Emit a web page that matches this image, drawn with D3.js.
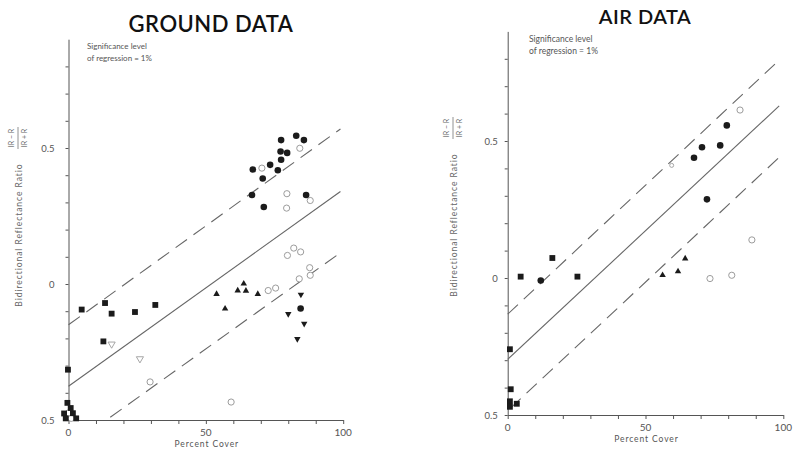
<!DOCTYPE html>
<html>
<head>
<meta charset="utf-8">
<script src="https://cdn.jsdelivr.net/npm/d3@7"></script>
<style>
  html, body { margin: 0; padding: 0; background: #ffffff; }
  svg { display: block; }
  text { font-family: "Lato", "DejaVu Sans", sans-serif; }
</style>
</head>
<body>
<svg id="chart" width="794" height="450"></svg>
<script>
// ---- Ground data (percent cover, bidirectional reflectance ratio) ----
const groundFilledCircles = [
  [82.9, 0.545], [85.7, 0.529], [77.4, 0.529], [77.2, 0.487], [79.6, 0.482],
  [77.4, 0.457], [73.4, 0.438], [67.1, 0.421], [76.2, 0.418], [70.7, 0.388],
  [66.8, 0.327], [86.5, 0.327], [71.1, 0.283], [84.5, -0.090]
];
const groundOpenCircles = [
  [84.2, 0.499], [70.4, 0.426], [79.5, 0.332], [88.0, 0.307], [79.4, 0.279],
  [82.0, 0.132], [79.7, 0.105], [84.5, 0.118], [87.8, 0.060], [84.0, 0.019],
  [88.0, 0.032], [72.7, -0.024], [75.4, -0.015], [29.7, -0.360], [59.2, -0.434],
  [0.0, -0.474], [1.0, -0.494]
];
const groundSquares = [
  [4.8, -0.094], [13.3, -0.070], [15.7, -0.109], [24.2, -0.103], [31.6, -0.077],
  [12.7, -0.211], [-0.2, -0.315],
  [-0.4, -0.437], [0.8, -0.456], [-1.6, -0.476], [1.6, -0.475],
  [-1.0, -0.494], [2.8, -0.494]
];
const groundTriUp = [
  [63.8, 0.001], [61.6, -0.024], [64.6, -0.025], [68.9, -0.037], [53.9, -0.037], [57.0, -0.091]
];
const groundTriDown = [
  [84.6, -0.039], [80.0, -0.110], [85.8, -0.146], [83.3, -0.202]
];
const groundOpenTriDown = [
  [15.7, -0.221], [26.0, -0.275]
];
// regression line and 1% significance band (x, y end points)
const groundFit   = [[0, -0.376], [99, 0.340]];
const groundUpper = [[0, -0.150], [99, 0.570]];
const groundLower = [[15.2, -0.490], [99.4, 0.118]];

// ---- Air data ----
const airFilledCircles = [
  [79.5, 0.557], [77.1, 0.484], [70.5, 0.477], [67.6, 0.439], [72.3, 0.287], [12.0, -0.009]
];
const airOpenCircles = [
  [84.3, 0.613], [88.6, 0.139], [73.4, -0.002], [81.3, 0.010]
];
const airSmallOpenCircles = [
  [59.5, 0.411]
];
const airTriUp = [
  [56.2, 0.010], [61.8, 0.024], [64.4, 0.071]
];
const airSquares = [
  [4.7, 0.005], [16.2, 0.073], [25.3, 0.005],
  [0.8, -0.260], [1.1, -0.406], [0.8, -0.450], [3.3, -0.459], [0.8, -0.470]
];
const airFit   = [[0, -0.297], [98.5, 0.628]];
const airUpper = [[0, -0.132], [98.8, 0.798]];
const airLower = [[1, -0.475], [99, 0.445]];

// ---- Axis ticks and labels ----
const xTicks = [0, 10, 20, 30, 40, 50, 60, 70, 80, 90, 100];
const xTickLabels = [0, 50, 100];
const yTicks = [-0.5, -0.4, -0.3, -0.2, -0.1, 0, 0.1, 0.2, 0.3, 0.4, 0.5, 0.6, 0.7, 0.8];
const yTickLabels = [[0.5, "0.5"], [0, "0"], [-0.5, "0.5"]];

const svg = d3.select("#chart");

function drawPanel(p) {
  const x = d3.scaleLinear().domain([0, 100]).range([p.left, p.right]);
  const y = d3.scaleLinear().domain([-0.5, 0.9]).range([p.bottom, p.top]);
  const g = svg.append("g");

  // title
  g.append("text")
    .attr("x", p.titleX).attr("y", p.titleY)
    .attr("text-anchor", "middle")
    .attr("font-size", p.titleSize)
    .attr("font-weight", 600)
    .attr("letter-spacing", 0.5)
    .attr("fill", "#111")
    .text(p.title);

  // axes
  const yAxis = d3.axisLeft(y).tickValues(yTicks).tickSize(3).tickSizeOuter(0).tickFormat("");
  g.append("g").attr("transform", `translate(${p.left},0)`).call(yAxis)
    .call(a => a.selectAll("path,line").attr("stroke", "#555").attr("stroke-width", 1));
  const xAxis = d3.axisBottom(x).tickValues(xTicks).tickSize(4).tickSizeOuter(0).tickFormat("");
  g.append("g").attr("transform", `translate(0,${p.bottom})`).call(xAxis)
    .call(a => a.selectAll("path,line").attr("stroke", "#555").attr("stroke-width", 1));

  // tick labels
  g.selectAll(".xl").data(xTickLabels).enter().append("text")
    .attr("x", d => x(d)).attr("y", p.bottom + 16)
    .attr("text-anchor", "middle").attr("font-size", 10).attr("fill", "#555")
    .text(d => d);
  g.selectAll(".yl").data(yTickLabels).enter().append("text")
    .attr("x", p.left - p.yLabelGap).attr("y", d => y(d[0]) + 3.5)
    .attr("text-anchor", "end").attr("font-size", 9.5).attr("fill", "#555")
    .text(d => d[1]);

  // axis titles
  g.append("text")
    .attr("x", (x(0) + x(100)) / 2 + 1).attr("y", p.bottom + 27)
    .attr("text-anchor", "middle").attr("font-size", 8.5).attr("letter-spacing", 0.9)
    .attr("fill", "#555").text("Percent Cover");

  const yt = g.append("g").attr("transform", `translate(${p.yTitleX},${p.yTitleY}) rotate(-90)`);
  yt.append("text").attr("x", 0).attr("y", 3)
    .attr("text-anchor", "middle").attr("font-size", 8.5).attr("letter-spacing", 0.95)
    .attr("fill", "#666").text("Bidirectional Reflectance Ratio");
  const fr = g.append("g").attr("transform", `translate(${p.yTitleX},${p.fracY}) rotate(-90)`);
  fr.append("text").attr("x", 0).attr("y", -5)
    .attr("text-anchor", "middle").attr("font-size", 7).attr("fill", "#666").text("IR − R");
  fr.append("line").attr("x1", -11).attr("x2", 11).attr("y1", -1).attr("y2", -1)
    .attr("stroke", "#777").attr("stroke-width", 0.8);
  fr.append("text").attr("x", 0).attr("y", 7.5)
    .attr("text-anchor", "middle").attr("font-size", 7).attr("fill", "#666").text("IR + R");

  // significance note
  g.append("text").attr("x", p.noteX).attr("y", p.noteY)
    .attr("font-size", p.noteSize).attr("fill", "#555").text("Significance level");
  g.append("text").attr("x", p.noteX).attr("y", p.noteY + p.noteSize * 1.45)
    .attr("font-size", p.noteSize).attr("fill", "#555").text("of regression = 1%");

  // regression line and dashed band
  const line = d3.line().x(d => x(d[0])).y(d => y(d[1]));
  g.append("path").datum(p.fit).attr("d", line)
    .attr("fill", "none").attr("stroke", "#666").attr("stroke-width", 1.1);
  [p.upper, p.lower].forEach(seg => {
    g.append("path").datum(seg).attr("d", line)
      .attr("fill", "none").attr("stroke", "#666").attr("stroke-width", 1.1)
      .attr("stroke-dasharray", "14,8");
  });

  // markers
  const dark = "#1b1b1b", light = "#9c9c9c";
  g.selectAll(".oc").data(p.openCircles).enter().append("circle")
    .attr("cx", d => x(d[0])).attr("cy", d => y(d[1])).attr("r", 3.1)
    .attr("fill", "#fff").attr("stroke", light).attr("stroke-width", 1);
  if (p.smallOpenCircles) {
    g.selectAll(".soc").data(p.smallOpenCircles).enter().append("circle")
      .attr("cx", d => x(d[0])).attr("cy", d => y(d[1])).attr("r", 2)
      .attr("fill", "#fff").attr("stroke", light).attr("stroke-width", 0.9);
  }
  g.selectAll(".fc").data(p.filledCircles).enter().append("circle")
    .attr("cx", d => x(d[0])).attr("cy", d => y(d[1])).attr("r", 3.3)
    .attr("fill", dark);
  const sq = d3.symbol().type(d3.symbolSquare).size(34);
  g.selectAll(".sq").data(p.squares).enter().append("path")
    .attr("d", sq).attr("transform", d => `translate(${x(d[0])},${y(d[1])})`)
    .attr("fill", dark);
  const tri = d3.symbol().type(d3.symbolTriangle).size(18);
  g.selectAll(".tu").data(p.triUp || []).enter().append("path")
    .attr("d", tri).attr("transform", d => `translate(${x(d[0])},${y(d[1])})`)
    .attr("fill", dark);
  g.selectAll(".td").data(p.triDown || []).enter().append("path")
    .attr("d", tri).attr("transform", d => `translate(${x(d[0])},${y(d[1])}) rotate(180)`)
    .attr("fill", dark);
  const triO = d3.symbol().type(d3.symbolTriangle).size(22);
  g.selectAll(".tdo").data(p.openTriDown || []).enter().append("path")
    .attr("d", triO).attr("transform", d => `translate(${x(d[0])},${y(d[1])}) rotate(180)`)
    .attr("fill", "#fff").attr("stroke", light).attr("stroke-width", 0.9);
}

drawPanel({
  title: "GROUND DATA", titleX: 211, titleY: 32, titleSize: 22,
  left: 68.5, right: 343.2, top: 39.2, bottom: 420,
  yLabelGap: 14, yTitleX: 19, yTitleY: 235, fracY: 138,
  noteX: 87, noteY: 49, noteSize: 8,
  fit: groundFit, upper: groundUpper, lower: groundLower,
  filledCircles: groundFilledCircles, openCircles: groundOpenCircles,
  squares: groundSquares, triUp: groundTriUp, triDown: groundTriDown,
  openTriDown: groundOpenTriDown
});

drawPanel({
  title: "AIR DATA", titleX: 645, titleY: 24, titleSize: 20,
  left: 507.7, right: 783.3, top: 31.4, bottom: 415,
  yLabelGap: 10, yTitleX: 454, yTitleY: 225, fracY: 128,
  noteX: 529, noteY: 42, noteSize: 8.5,
  fit: airFit, upper: airUpper, lower: airLower,
  filledCircles: airFilledCircles, openCircles: airOpenCircles,
  smallOpenCircles: airSmallOpenCircles,
  squares: airSquares, triUp: airTriUp
});
</script>
</body>
</html>
